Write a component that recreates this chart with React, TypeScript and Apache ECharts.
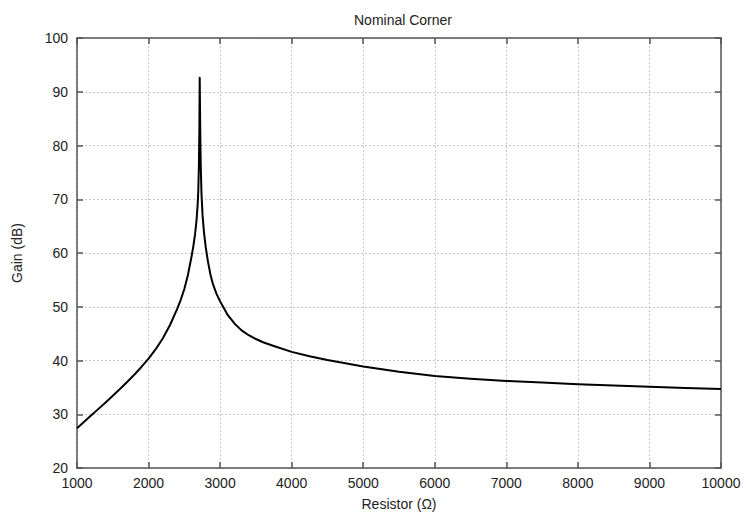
import React, { useEffect, useRef } from "react";
import * as echarts from "echarts";

const title = "Nominal Corner";
const xName = "Resistor (Ω)";
const yName = "Gain (dB)";

const resistor = [
  1000, 1100, 1200, 1300, 1400, 1500, 1600, 1700, 1800, 1900, 2000, 2100, 2200,
  2300, 2400, 2450, 2500, 2550, 2600, 2625, 2650, 2670, 2685, 2695, 2703, 2710,
  2715, 2722, 2730, 2740, 2755, 2775, 2800, 2830, 2865, 2900, 2950, 3000, 3050,
  3100, 3200, 3300, 3400, 3500, 3600, 3750, 4000, 4250, 4500, 4750, 5000, 5500,
  6000, 6500, 7000, 7500, 8000, 8500, 9000, 9500, 10000,
];
const gain = [
  27.4, 28.6, 29.8, 31.0, 32.2, 33.45, 34.7, 36.0, 37.35, 38.8, 40.35, 42.1, 44.15,
  46.6, 49.6, 51.3, 53.3, 55.9, 59.3, 61.2, 63.5, 66.0, 68.8, 71.5, 76.0, 83.0,
  92.6, 83.0, 76.0, 71.0, 67.0, 63.8, 61.0, 58.4, 56.0, 54.2, 52.4, 51.0, 49.8,
  48.6, 46.9, 45.6, 44.7, 44.0, 43.4, 42.7, 41.6, 40.8, 40.1, 39.5, 38.9, 37.9,
  37.1, 36.6, 36.2, 35.9, 35.6, 35.35, 35.1, 34.9, 34.7,
];

const xTicks = { min: 1000, max: 10000, interval: 1000 };
const yTicks = { min: 20, max: 100, interval: 10 };

export default function App() {
  const ref = useRef<HTMLDivElement>(null);
  useEffect(() => {
    if (!ref.current) return;
    const chart = echarts.init(ref.current, undefined, { renderer: "svg" });
    const font = "Liberation Sans";
    const axisLine = { show: true, lineStyle: { color: "#555", width: 1.5 } };
    const tick = { show: true, inside: true, length: 6, lineStyle: { color: "#555", width: 1.5 } };
    const grid = { show: true, lineStyle: { color: "#c8c8c8", type: [2, 2] as any, width: 1 } };
    chart.setOption({
      animation: false,
      backgroundColor: "#fff",
      title: {
        text: title,
        left: 398,
        textAlign: "center",
        top: 8,
        textStyle: { fontFamily: font, fontSize: 14, fontWeight: "normal", color: "#222" },
      },
      grid: { left: 77, right: 25, top: 38, bottom: 49 },
      xAxis: [
        {
          type: "value",
          ...xTicks,
          position: "bottom",
          name: xName,
          nameLocation: "middle",
          nameGap: 29,
          nameTextStyle: { fontFamily: font, fontSize: 14, color: "#222" },
          axisLine,
          axisTick: tick,
          splitLine: grid,
          axisLabel: { fontFamily: font, fontSize: 14, color: "#222", margin: 8, formatter: (v: number) => String(v) },
        },
        {
          type: "value",
          ...xTicks,
          position: "top",
          axisLine,
          axisTick: tick,
          splitLine: { show: false },
          axisLabel: { show: false },
        },
      ],
      yAxis: [
        {
          type: "value",
          ...yTicks,
          position: "left",
          name: yName,
          nameLocation: "middle",
          nameGap: 53,
          nameRotate: 90,
          nameTextStyle: { fontFamily: font, fontSize: 14, color: "#222" },
          axisLine,
          axisTick: tick,
          splitLine: grid,
          axisLabel: { fontFamily: font, fontSize: 14, color: "#222", margin: 9, formatter: (v: number) => String(v) },
        },
        {
          type: "value",
          ...yTicks,
          position: "right",
          axisLine,
          axisTick: tick,
          splitLine: { show: false },
          axisLabel: { show: false },
        },
      ],
      series: [
        {
          type: "line",
          data: resistor.map((r, i) => [r, gain[i]]),
          showSymbol: false,
          smooth: false,
          lineStyle: { color: "#000", width: 2, join: "round" },
          xAxisIndex: 0,
          yAxisIndex: 0,
        },
      ],
    });
    return () => chart.dispose();
  }, []);
  return <div ref={ref} style={{ width: 746, height: 517, position: "absolute", left: 0, top: 0 }} />;
}
